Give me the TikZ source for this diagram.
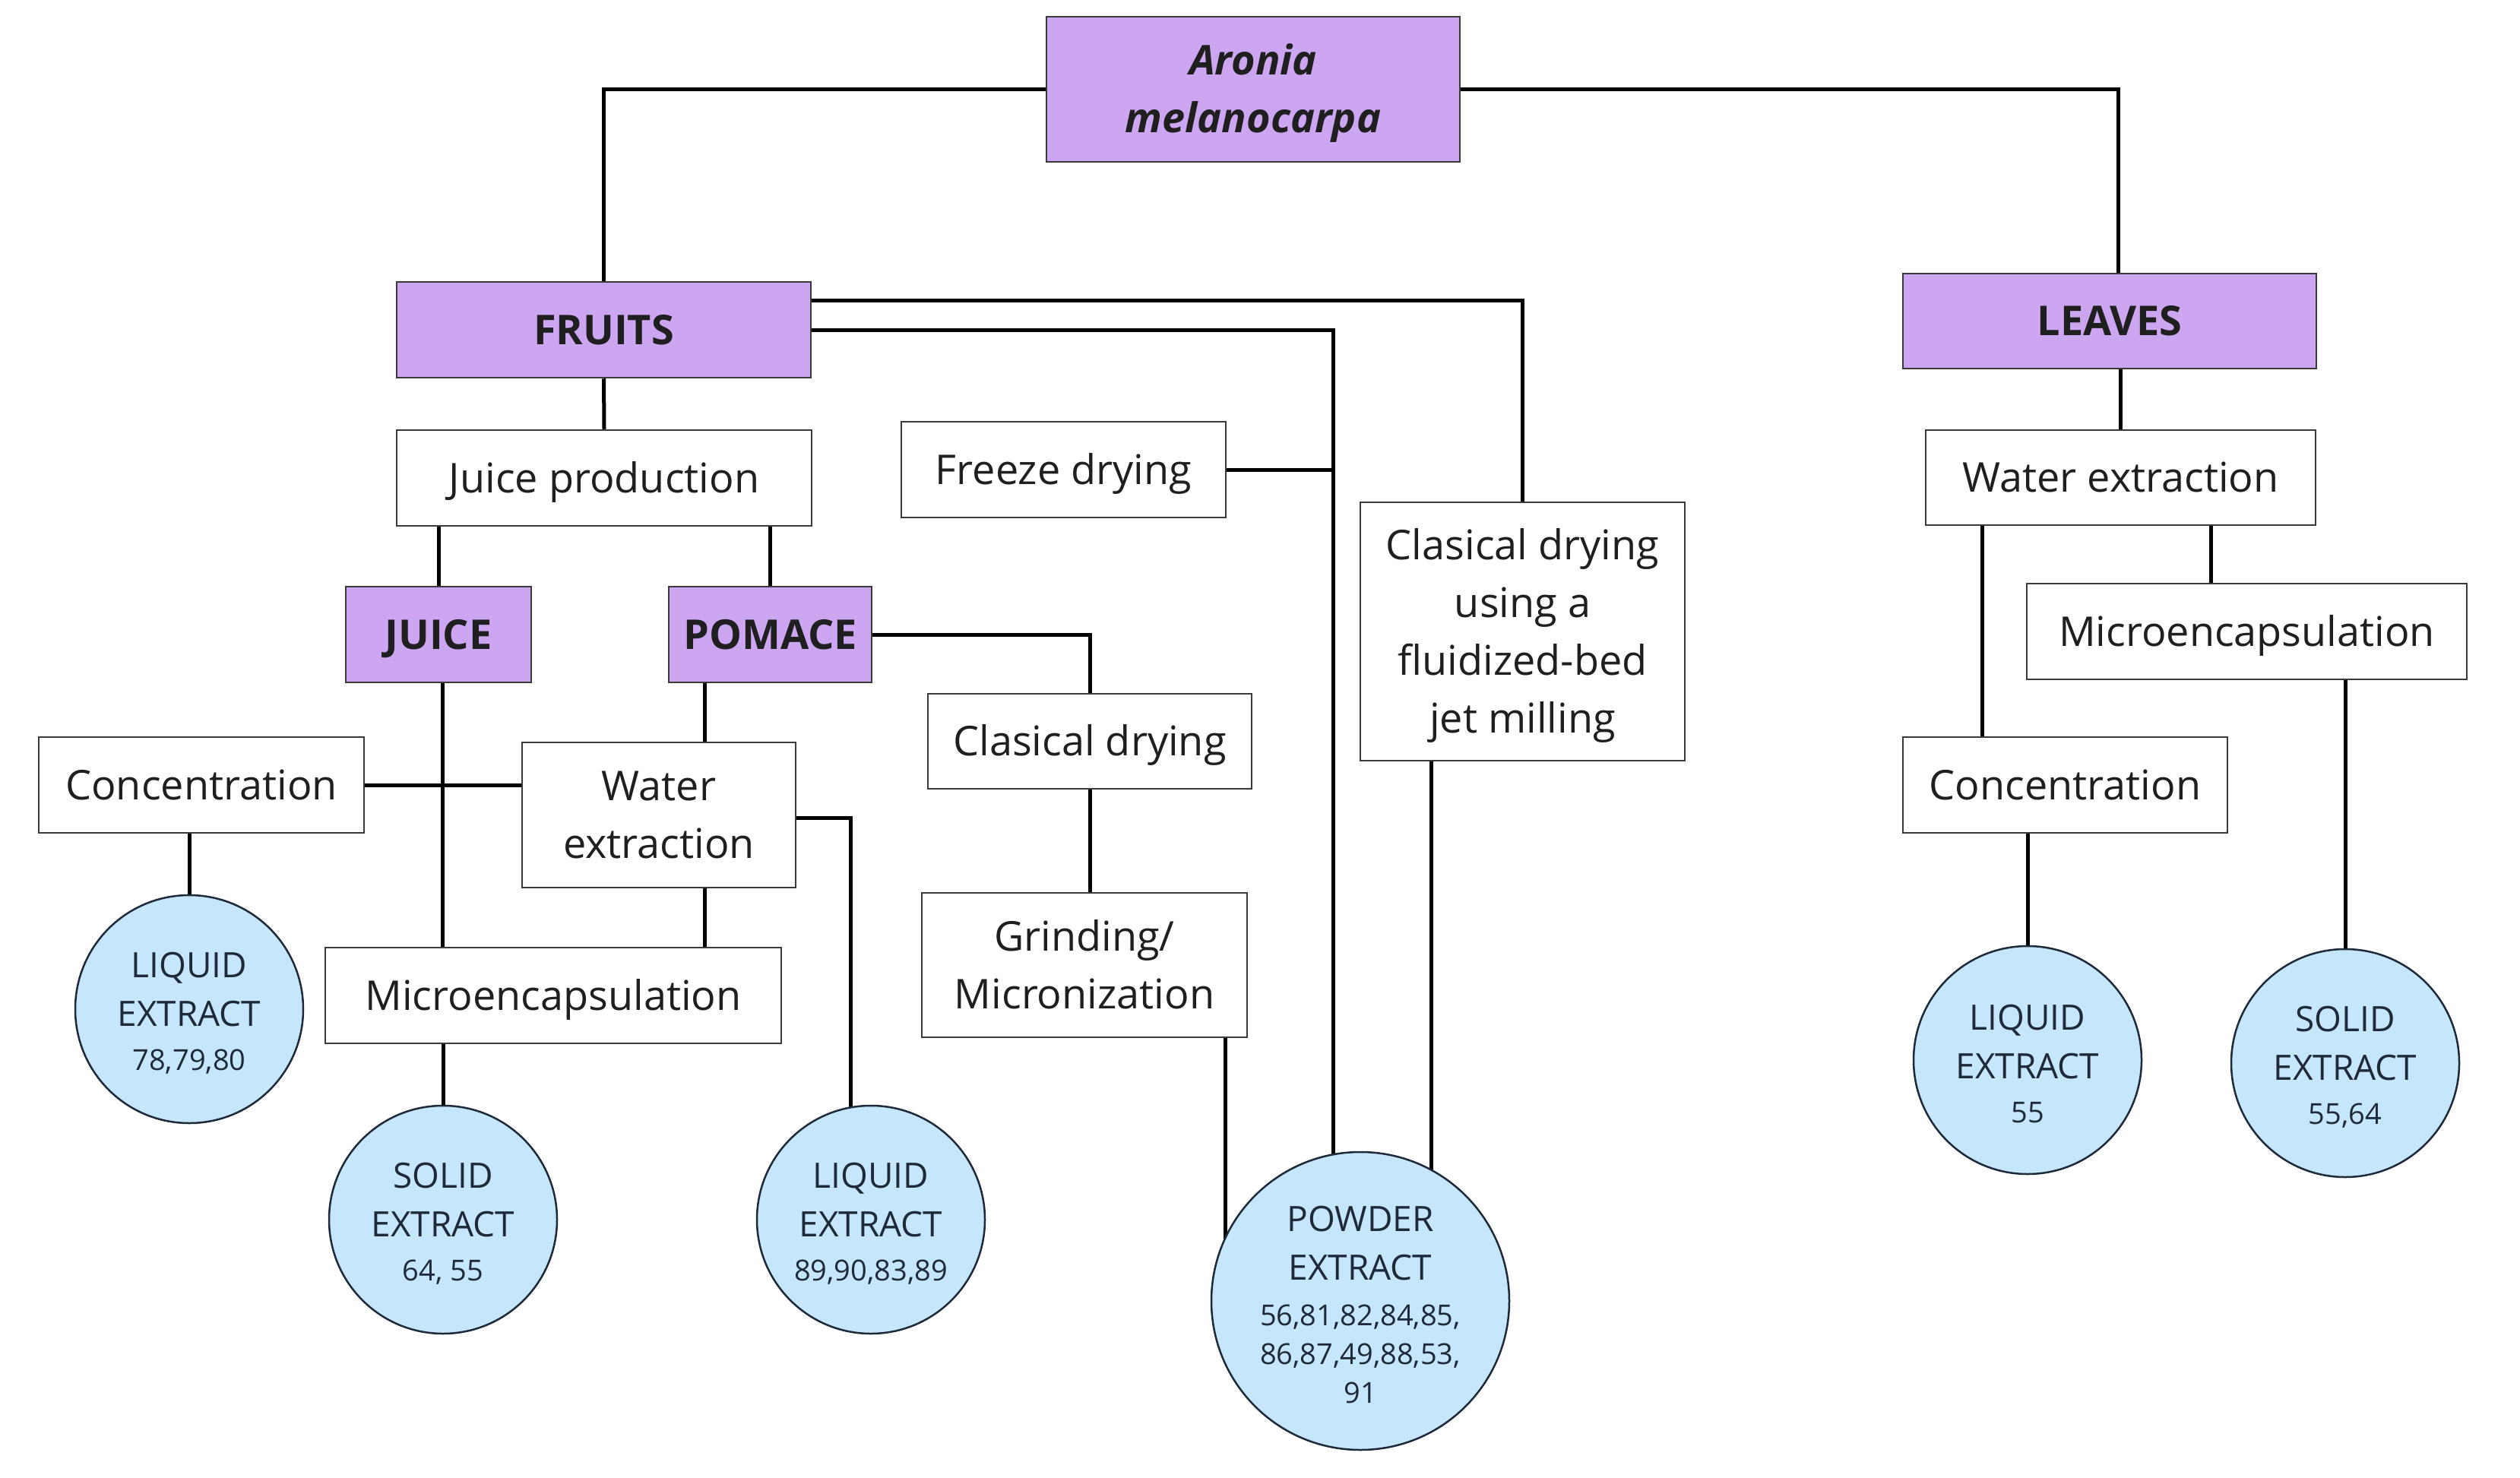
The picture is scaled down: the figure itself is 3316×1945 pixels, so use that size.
\documentclass[tikz,border=0pt]{standalone}
\usepackage{fontspec}
\setmainfont{Open Sans}
\usetikzlibrary{calc}
\pgfdeclarelayer{background}
\pgfsetlayers{background,main}
\definecolor{purp}{HTML}{CDA6F2}
\definecolor{lblue}{HTML}{C6E6FB}
\definecolor{ink}{HTML}{1E2A3A}
\definecolor{boxline}{HTML}{3A3A3A}
\newcommand\bxfont{\fontsize{54}{76}\selectfont}
\newcommand\lbfont{\fontsize{46}{64}\selectfont}
\newcommand\nmfont{\fontsize{38}{51}\selectfont}
\newcommand\bs{\rule[-13pt]{0pt}{64.6pt}}
\newcommand\cs{\rule{0pt}{43pt}}
\begin{document}
\begin{tikzpicture}[x=1pt,y=-1pt,
  box/.style={draw=boxline, line width=2.5pt, fill=white, inner sep=0pt,
    align=center, font=\bxfont, text=black!88},
  pbox/.style={box, fill=purp, font=\bxfont\bfseries},
  circ/.style={circle, draw=ink, line width=2.5pt, fill=lblue, inner sep=0pt,
    minimum size=#1, align=center, font=\lbfont, text=ink},
  circ/.default=300pt,
  conn/.style={line width=5pt, black}]
\useasboundingbox (0,0) rectangle (3316,1945);
% boxes
\node[pbox, minimum width=544pt, minimum height=191pt, font=\bxfont\bfseries\itshape] (aronia) at (1649,117.5) {\bs Aronia\\\bs melanocarpa};
\node[pbox, minimum width=545pt, minimum height=126pt] (fruits) at (794.5,434) {\bs FRUITS};
\node[pbox, minimum width=544pt, minimum height=125pt] (leaves) at (2776,422.5) {\bs LEAVES};
\node[box, minimum width=546pt, minimum height=126pt] (juiceprod) at (795,629) {\bs Juice production};
\node[box, minimum width=427pt, minimum height=126pt] (freeze) at (1399.5,618) {\bs Freeze drying};
\node[box, minimum width=427pt, minimum height=340pt] (fluid) at (2003.5,831) {\bs Clasical drying\\\bs using a\\\bs fluidized-bed\\\bs jet milling};
\node[box, minimum width=513pt, minimum height=125pt] (leafwater) at (2790.5,628.5) {\bs Water extraction};
\node[pbox, minimum width=244pt, minimum height=126pt] (juice) at (577,835) {\bs JUICE};
\node[pbox, minimum width=267pt, minimum height=126pt] (pomace) at (1013.5,835) {\bs POMACE};
\node[box, minimum width=426pt, minimum height=125pt] (clasdry) at (1434,975.5) {\bs Clasical drying};
\node[box, minimum width=579pt, minimum height=126pt] (leafmicro) at (2956.5,831) {\bs Microencapsulation};
\node[box, minimum width=428pt, minimum height=126pt] (conc) at (265,1033) {\bs Concentration};
\node[box, minimum width=360pt, minimum height=191pt] (water) at (867,1072.5) {\bs Water\\\bs extraction};
\node[box, minimum width=427pt, minimum height=126pt] (leafconc) at (2717.5,1033) {\bs Concentration};
\node[box, minimum width=428pt, minimum height=190pt] (grind) at (1427,1270) {\bs Grinding/\\\bs Micronization};
\node[box, minimum width=600pt, minimum height=126pt] (micro) at (728,1310) {\bs Microencapsulation};
% circles
\node[circ] (liq1) at (249,1328) {\cs LIQUID\\EXTRACT\\[-6pt]{\nmfont 78,79,80}};
\node[circ] (solid1) at (583,1605) {\cs SOLID\\EXTRACT\\[-6pt]{\nmfont 64, 55}};
\node[circ] (liq2) at (1146,1605) {\cs LIQUID\\EXTRACT\\[-6pt]{\nmfont 89,90,83,89}};
\node[circ=392pt] (powder) at (1790,1712) {\cs POWDER\\EXTRACT\\[-4pt]{\nmfont 56,81,82,84,85,}\\[-13pt]{\nmfont 86,87,49,88,53,}\\[-13pt]{\nmfont 91}};
\node[circ] (liq3) at (2668,1395) {\cs LIQUID\\EXTRACT\\[-6pt]{\nmfont 55}};
\node[circ] (solid2) at (3086,1399) {\cs SOLID\\EXTRACT\\[-6pt]{\nmfont 55,64}};
% bend coordinates
\coordinate (jx) at (1754,1712);
\coordinate (gx) at (1612,1712);
\coordinate (fx) at (1883,1712);
\coordinate (wx) at (1119,1605);
\coordinate (jd) at (582,0);
\coordinate (pd) at (927,0);
\coordinate (lw1) at (2608,0);
\coordinate (lw2) at (2909,0);
\begin{pgfonlayer}{background}
\fill[white] (0,0) rectangle (3316,1945);
\draw[conn] (aronia.west) -| (fruits.north);
\draw[conn] (aronia.east) -| ([xshift=11pt]leaves.north);
\draw[conn] ([yshift=38.5pt]fruits.east) -| (fluid.north);
\draw[conn] (fruits.east) -| (jx);
\draw[conn] (freeze.east) -- (freeze.east -| jx);
\draw[conn] (fruits.south) -- (juiceprod.north);
\draw[conn] (juice.north) -- (juice.north |- juiceprod.south);
\draw[conn] (pomace.north) -- (pomace.north |- juiceprod.south);
\draw[conn] (pomace.east) -| (clasdry.north);
\draw[conn] (clasdry.south) -- (clasdry.south |- grind.north);
\draw[conn] (gx |- grind.south) -- (gx);
\draw[conn] (fx |- fluid.south) -- (fx);
\draw[conn] (jd |- juice.south) -- (jd |- micro.north);
\draw[conn] (pd |- pomace.south) -- (pd |- water.north);
\draw[conn] (pd |- water.south) -- (pd |- micro.north);
\draw[conn] (conc.east) -- (conc.east -| water.west);
\draw[conn] ([yshift=-3.5pt]water.east) -| (wx);
\draw[conn] (solid1.center |- micro.south) -- (solid1.center);
\draw[conn] (liq1.center |- conc.south) -- (liq1.center);
\draw[conn] (leafwater.north) -- (leafwater.north |- leaves.south);
\draw[conn] (lw1 |- leafwater.south) -- (lw1 |- leafconc.north);
\draw[conn] (lw2 |- leafwater.south) -- (lw2 |- leafmicro.north);
\draw[conn] (solid2.center |- leafmicro.south) -- (solid2.center);
\draw[conn] (liq3.center |- leafconc.south) -- (liq3.center);
\end{pgfonlayer}
\end{tikzpicture}
\end{document}
